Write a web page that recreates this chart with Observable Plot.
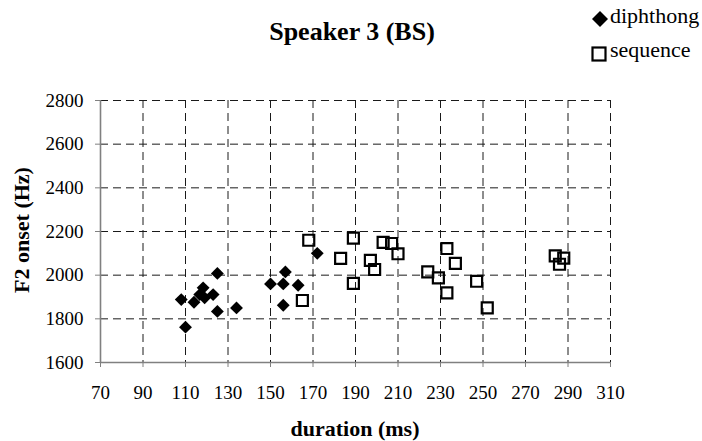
<!DOCTYPE html>
<html>
<head>
<meta charset="utf-8">
<script src="https://cdn.jsdelivr.net/npm/d3@7"></script>
<script src="https://cdn.jsdelivr.net/npm/@observablehq/plot@0.6"></script>
<style>
  html, body { margin: 0; padding: 0; background: #fff; }
  #wrap { position: relative; width: 702px; height: 441px; font-family: "Liberation Serif", "Times New Roman", serif; color: #000; }
  .abs { position: absolute; white-space: nowrap; line-height: 1; }
  #title { left: 0; width: 704px; top: 19px; text-align: center; font-weight: bold; font-size: 26px; }
  #xtitle { left: 0; width: 710px; top: 418px; text-align: center; font-weight: bold; font-size: 22px; }
  #ytitle { left: 22px; top: 230px; transform: translate(-50%, -50%) rotate(-90deg); font-weight: bold; font-size: 22px; }
  .legtext { left: 610px; font-size: 22px; }
  .legsym { left: 590px; }
</style>
</head>
<body>
<div id="wrap">
  <div id="chart"></div>
  <div id="title" class="abs">Speaker 3 (BS)</div>
  <div id="xtitle" class="abs">duration (ms)</div>
  <div id="ytitle" class="abs">F2 onset (Hz)</div>
  <svg class="abs legsym" style="top:9px;" width="20" height="20"><path d="M10,2L18,10L10,18L2,10Z" fill="#000"/></svg>
  <div class="abs legtext" style="top:5px;">diphthong</div>
  <svg class="abs legsym" style="top:44px;" width="20" height="20"><rect x="2.5" y="3.5" width="13" height="13" fill="none" stroke="#000" stroke-width="2.2"/></svg>
  <div class="abs legtext" style="top:39px;">sequence</div>
</div>
<script>
const diphDur = [108, 110, 114, 116.7, 118.3, 119, 123, 125, 125, 134, 150, 156, 157, 156, 163, 172];
const diphF2  = [1888, 1762, 1876, 1911, 1942, 1896, 1911, 2008, 1834, 1850, 1960, 1960, 2015, 1862, 1954, 2100];

const seqDur = [165, 168, 183, 189, 189, 197, 199, 203, 207, 210, 224, 229, 233, 233, 237, 247, 252, 284, 286, 288];
const seqF2  = [1884, 2160, 2077, 2170, 1962, 2068, 2026, 2150, 2145, 2098, 2015, 1988, 2122, 1919, 2054, 1972, 1850, 2088, 2050, 2078];

const xTicks = [70, 90, 110, 130, 150, 170, 190, 210, 230, 250, 270, 290, 310];
const yTicks = [1600, 1800, 2000, 2200, 2400, 2600, 2800];

const diph = diphDur.map((d, i) => ({dur: d, f2: diphF2[i]}));
const seq = seqDur.map((d, i) => ({dur: d, f2: seqF2[i]}));

const serif = "'Liberation Serif', 'Times New Roman', serif";

const chart = Plot.plot({
  width: 702,
  height: 441,
  marginLeft: 100,
  marginRight: 92,
  marginTop: 100,
  marginBottom: 79,
  style: {fontFamily: serif, fontSize: "19px", color: "#000", background: "#fff"},
  x: {domain: [70, 310], label: null},
  y: {domain: [1600, 2800], label: null},
  marks: [
    Plot.gridX(xTicks.slice(1), {stroke: "#1a1a1a", strokeOpacity: 1, strokeWidth: 1, strokeDasharray: "8,5"}),
    Plot.gridY(yTicks.slice(1), {stroke: "#1a1a1a", strokeOpacity: 1, strokeWidth: 1, strokeDasharray: "8,5"}),
    Plot.ruleX([70], {stroke: "#808080", strokeWidth: 1.6}),
    Plot.ruleY([1600], {stroke: "#808080", strokeWidth: 1.6}),
    Plot.axisX(xTicks, {tickSize: 5, tickPadding: 18, label: null, stroke: "#808080", tickFormat: d => String(d), fontFamily: serif}),
    Plot.axisY(yTicks, {tickSize: 5, tickPadding: 12, label: null, stroke: "#808080", tickFormat: d => String(d), fontFamily: serif}),
    Plot.dot(seq, {x: "dur", y: "f2", symbol: "square", r: 6.2, stroke: "#000", strokeWidth: 2.2, fill: "none"}),
    Plot.dot(diph, {x: "dur", y: "f2", symbol: "diamond2", r: 5.8, fill: "#000", stroke: "none"})
  ]
});
document.getElementById("chart").appendChild(chart);
</script>
</body>
</html>
